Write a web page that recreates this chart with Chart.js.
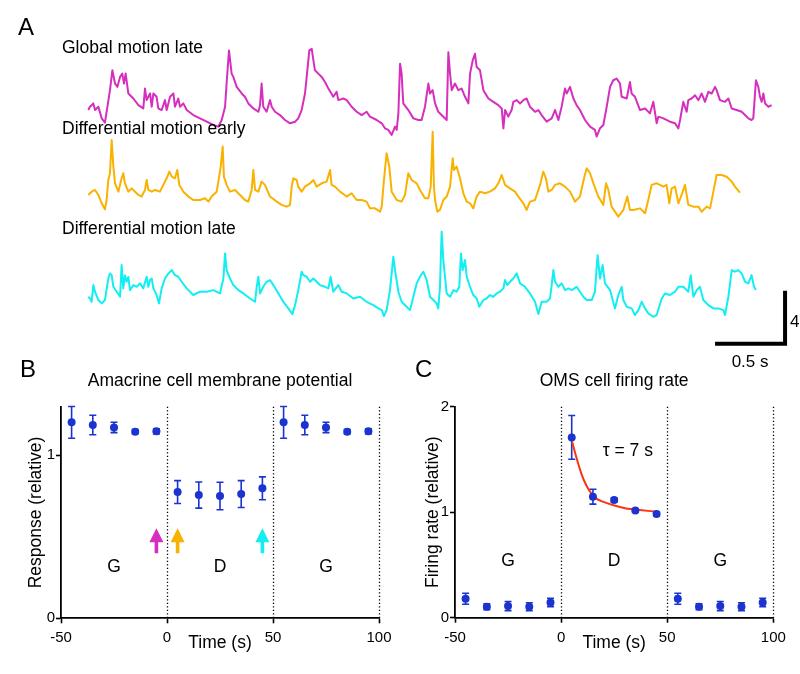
<!DOCTYPE html>
<html>
<head>
<meta charset="utf-8">
<title>Amacrine / OMS responses</title>
<script src="https://cdn.jsdelivr.net/npm/chart.js@4.4.1/dist/chart.umd.min.js"></script>
<style>
  body { margin: 0; background: #fff; width: 800px; height: 674px; position: relative; overflow: hidden; }
  canvas { position: absolute; }
</style>
</head>
<body>
<canvas id="traceChart" width="800" height="372" style="left:0px;top:0px"></canvas>
<canvas id="amacrineChart" width="400" height="319" style="left:0px;top:355px"></canvas>
<canvas id="omsChart" width="400" height="319" style="left:400px;top:355px"></canvas>
<script>
// ---- panel A: membrane potential traces (time in s, voltage in mV above trace minimum) ----
const tMagenta = [0.002,0.014,0.038,0.05,0.074,0.098,0.121,0.157,0.174,0.193,0.21,0.229,0.245,0.257,0.269,0.288,0.324,0.36,0.395,0.407,
  0.419,0.443,0.455,0.467,0.49,0.502,0.526,0.55,0.562,0.586,0.61,0.621,0.645,0.657,0.681,0.705,0.752,0.8,0.848,0.895,
  0.931,0.955,0.979,0.99,1.007,1.026,1.038,1.062,1.098,1.121,1.145,1.181,1.217,1.229,1.24,1.252,1.276,1.3,1.312,1.336,
  1.371,1.407,1.443,1.479,1.502,1.526,1.55,1.562,1.581,1.598,1.61,1.621,1.645,1.669,1.693,1.717,1.752,1.776,1.788,1.824,
  1.848,1.883,1.919,1.955,1.99,2.014,2.062,2.098,2.121,2.145,2.169,2.193,2.205,2.217,2.229,2.24,2.252,2.288,2.324,2.36,
  2.383,2.407,2.431,2.443,
  2.462,2.479,2.502,2.538,2.562,2.574,2.586,2.598,2.621,2.645,2.669,2.693,2.717,2.729,2.748,2.764,2.776,2.8,2.824,2.86,
  2.895,2.931,2.955,2.967,2.979,3.002,3.026,3.038,3.062,3.086,3.11,3.133,3.157,3.193,3.217,3.24,3.276,3.312,3.336,3.36,
  3.383,3.407,3.419,3.443,3.467,3.49,3.514,3.55,3.586,3.621,3.633,3.657,3.681,3.705,3.729,3.752,3.776,3.8,3.812,3.848,
  3.871,3.883,3.907,3.943,3.979,4.014,4.038,4.062,4.074,4.11,4.157,4.193,4.217,4.229,4.252,4.276,4.288,4.312,4.336,4.36,
  4.383,4.407,4.431,4.455,4.479,4.49,4.514,4.55,4.574,4.598,4.633,4.669,4.693,4.717,4.74,4.752,4.771,4.788,4.8,4.812,
  4.824,4.836,4.86,4.883];
const vMagenta = [2.03,2.28,2.53,2.03,2.28,1.4,1.08,3.53,5.03,4.03,3.78,4.53,4.78,4.03,4.78,3.28,2.9,2.4,2.15,3.65,
  2.78,3.28,2.28,3.28,3.03,2.15,2.03,2.78,2.03,3.03,3.28,2.28,2.9,2.28,2.53,2.03,1.65,1.4,1.15,0.9,
  0.78,1.28,2.28,4.03,6.53,4.78,4.53,3.78,3.28,3.03,2.53,2.15,1.9,2.4,4.03,2.28,1.9,2.78,2.28,1.9,
  1.65,1.28,1.03,1.15,1.4,2.03,3.28,4.53,6.53,6.65,5.78,5.03,4.78,4.53,4.15,3.65,3.03,3.4,2.78,2.9,
  2.78,2.28,1.9,1.65,1.9,1.53,1.28,1.03,0.65,0.53,0.15,0.78,0.53,1.78,5.53,4.78,2.53,2.03,1.4,1.28,
  1.28,2.28,4.03,3.28,
  3.53,2.53,1.9,1.53,1.28,6.4,4.78,3.53,4.03,3.53,3.65,3.03,2.53,4.78,5.78,6.28,5.28,5.03,3.53,2.9,
  2.65,2.4,2.15,0.65,2.03,1.53,2.03,2.65,2.78,2.53,2.78,2.9,2.28,1.9,2.03,1.65,1.15,1.4,2.03,1.28,
  2.28,3.65,3.28,3.78,2.9,2.4,2.03,1.28,0.78,0.53,0.03,0.65,0.9,2.28,3.78,4.28,4.4,4.03,3.03,2.9,
  4.15,3.28,3.03,2.03,2.15,1.78,2.65,1.03,1.53,1.4,1.15,1.03,0.65,1.28,2.65,1.9,2.78,2.9,3.15,2.78,
  3.28,2.65,3.4,3.28,3.78,3.53,2.78,2.65,2.9,2.15,2.03,1.9,1.65,1.4,1.28,1.4,4.28,3.78,3.03,2.65,
  3.28,2.53,2.28,2.4];

const tYellow = [0.002,0.026,0.05,0.074,0.098,0.121,0.133,0.145,0.157,0.169,0.181,0.193,0.217,0.24,0.252,0.264,0.288,0.312,0.336,0.36,
  0.383,0.407,0.419,0.431,0.455,0.479,0.514,0.538,0.562,0.581,0.598,0.621,0.638,0.652,0.681,0.717,0.752,0.8,0.836,0.86,
  0.883,0.919,0.931,0.948,0.962,0.971,0.99,1.014,1.05,1.086,1.121,1.145,1.169,1.181,1.193,1.217,1.24,1.264,1.3,1.348,
  1.383,1.419,1.443,1.455,1.467,1.49,1.502,1.526,1.55,1.586,1.61,1.633,1.669,1.705,1.729,1.74,1.764,1.8,1.848,1.883,
  1.919,1.955,1.99,2.014,2.05,2.086,2.098,2.114,2.133,2.152,2.169,2.205,2.24,2.264,2.288,2.312,2.348,2.371,2.407,2.431,
  2.448,2.462,
  2.471,2.479,2.495,2.514,2.538,2.562,2.586,2.605,2.614,2.633,2.657,2.681,2.705,2.729,2.752,2.776,2.8,2.836,2.871,2.907,
  2.931,2.955,2.979,3.014,3.05,3.074,3.11,3.133,3.157,3.193,3.229,3.252,3.271,3.288,3.312,3.336,3.371,3.407,3.443,3.479,
  3.514,3.543,3.562,3.586,3.61,3.645,3.681,3.7,3.717,3.74,3.764,3.788,3.824,3.852,3.871,3.895,3.943,3.979,4.002,4.026,
  4.062,4.086,4.11,4.133,4.152,4.169,4.193,4.217,4.24,4.264,4.288,4.324,4.36,4.383,4.419,4.443,4.467,4.49,4.526,4.562,
  4.598,4.621,4.657];
const vYellow = [1.76,2.01,2.14,1.76,1.13,0.68,1.38,2.89,3.4,5.91,3.9,2.64,2.01,3.02,3.4,2.64,2.01,2.26,2.01,1.76,
  1.64,2.14,2.89,2.14,2.01,2.14,2.01,2.52,3.02,3.52,3.14,3.02,3.65,2.52,2.01,1.64,1.38,1.38,1.51,1.26,
  1.64,2.01,2.77,3.9,5.41,3.14,2.52,2.01,2.14,1.76,1.38,1.26,2.14,3.65,2.14,2.01,2.77,2.52,1.64,1.26,
  1.01,0.88,1.01,2.39,3.02,2.89,2.39,2.01,2.39,2.64,2.89,2.39,2.64,2.77,3.65,2.52,2.39,2.01,1.64,1.89,
  1.38,1.38,1.26,0.75,0.75,0.5,0.88,2.89,4.91,3.9,2.01,1.38,1.26,1.76,3.4,2.89,2.64,2.14,1.51,1.51,
  2.39,6.54,
  2.39,1.38,0.5,0.63,1.38,1.64,2.39,4.53,3.65,3.9,3.02,1.89,1.26,1.13,0.75,1.64,2.01,1.89,2.01,2.26,
  2.64,3.27,2.52,2.26,2.01,1.64,1.13,0.63,1.26,1.38,2.52,3.52,3.02,2.01,2.14,2.52,2.64,2.39,2.01,1.26,
  1.64,3.02,3.77,3.4,2.64,1.64,1.01,2.64,2.14,0.88,0.5,0.13,0.63,1.64,0.63,0.63,0.75,0.38,1.38,2.52,
  2.64,2.52,2.39,2.52,1.13,2.26,2.39,1.13,1.76,2.52,1.01,0.88,0.88,0.5,0.88,0.75,2.01,3.27,3.27,3.14,
  2.77,2.39,1.94];

const tCyan = [0.002,0.014,0.026,0.038,0.05,0.074,0.098,0.121,0.145,0.157,0.169,0.181,0.205,0.229,0.24,0.252,0.264,0.276,0.288,0.3,
  0.324,0.348,0.371,0.395,0.419,0.431,0.443,0.455,0.467,0.49,0.507,0.526,0.55,0.574,0.598,0.621,0.645,0.669,0.705,0.752,
  0.8,0.848,0.895,0.943,0.967,0.979,0.99,1.014,1.038,1.074,1.11,1.157,1.193,1.205,1.217,1.229,1.252,1.276,1.3,1.324,
  1.36,1.395,1.431,1.46,1.479,1.502,1.526,1.538,1.562,1.586,1.61,1.633,1.657,1.693,1.717,1.733,1.752,1.788,1.812,1.848,
  1.895,1.943,1.99,2.038,2.074,2.098,2.114,2.133,2.157,2.181,2.193,2.217,2.24,2.276,2.3,2.324,2.348,2.371,2.395,2.419,
  2.443,2.467,2.49,
  2.502,2.514,2.526,2.538,2.55,2.562,2.586,2.61,2.633,2.652,2.664,2.676,2.693,2.705,2.729,2.752,2.776,2.795,2.824,2.848,
  2.871,2.895,2.919,2.943,2.967,2.979,2.995,3.014,3.038,3.062,3.086,3.121,3.157,3.193,3.217,3.24,3.276,3.3,3.312,3.324,
  3.336,3.36,3.383,3.407,3.431,3.455,3.49,3.514,3.538,3.562,3.598,3.621,3.64,3.657,3.676,3.693,3.729,3.764,3.788,3.812,
  3.824,3.848,3.883,3.907,3.931,3.955,3.979,4.002,4.038,4.062,4.098,4.121,4.157,4.193,4.217,4.252,4.288,4.305,4.324,4.348,
  4.371,4.395,4.431,4.467,4.502,4.538,4.55,4.574,4.598,4.621,4.645,4.669,4.693,4.717,4.74,4.757,4.771];
const vCyan = [1.51,1.38,1.13,2.39,1.89,1.26,1.01,1.26,2.89,3.27,3.14,2.26,1.89,1.51,3.9,2.14,3.14,2.64,3.02,2.01,
  2.39,2.26,2.52,2.14,3.02,2.26,2.77,2.89,2.14,1.64,1.01,2.14,2.89,3.27,3.52,3.14,3.02,2.64,2.14,1.64,
  1.89,1.89,2.01,1.76,2.89,4.78,3.52,2.89,2.39,2.01,1.76,1.38,1.13,2.26,3.02,1.76,2.26,2.64,2.77,2.39,
  1.76,1.13,0.63,0.2,0.88,2.01,3.4,3.14,3.02,2.64,2.89,2.64,2.39,2.26,2.14,3.02,1.89,2.39,1.89,1.76,
  1.38,1.51,1.13,0.88,0.63,0.5,0.05,0.5,2.01,4.53,3.52,1.89,1.13,0.75,0.5,1.51,2.52,3.02,3.4,2.77,
  1.51,1.26,1.01,
  0.63,2.26,6.42,4.28,3.02,1.76,1.51,2.01,1.89,2.26,4.78,3.52,4.28,3.02,2.26,1.64,1.38,0.75,1.26,1.38,
  1.64,1.51,1.76,1.89,2.14,2.77,2.39,2.64,2.89,3.27,2.52,2.26,1.76,1.13,0.2,1.13,1.13,1.38,2.39,3.52,
  2.64,2.26,2.52,2.01,2.14,2.01,2.26,1.89,1.51,1.26,1.26,1.89,4.65,2.89,3.9,2.52,2.01,0.63,1.64,2.26,
  1.26,0.75,0.63,0.13,0.5,1.13,0.63,0.25,0.0,0.13,1.38,1.76,1.64,1.89,2.26,2.26,1.89,3.14,1.51,2.01,
  2.26,1.26,0.88,0.63,0.63,0.5,0.13,1.51,3.52,3.4,3.52,3.27,2.64,2.52,3.14,2.26,2.01];

const traceNames = ['Global motion late', 'Differential motion early', 'Differential motion late'];
const scaleBarTime = 0.5;   // s
const scaleBarVolt = 4;     // mV

// ---- panels B and C: binned responses ----
const binTimes = [-45, -35, -25, -15, -5, 5, 15, 25, 35, 45, 55, 65, 75, 85, 95];
const amacrineMean = [1.2, 1.184, 1.169, 1.143, 1.145, 0.773, 0.755, 0.749, 0.761, 0.796, 1.2, 1.184, 1.169, 1.143, 1.145];
const amacrineErr = [0.097, 0.06, 0.032, 0.013, 0.016, 0.07, 0.08, 0.084, 0.082, 0.07, 0.097, 0.06, 0.032, 0.013, 0.016];
const omsMean = [0.18, 0.104, 0.11, 0.104, 0.145, 1.709, 1.147, 1.115, 1.017, 0.983, 0.18, 0.104, 0.11, 0.104, 0.145];
const omsErr = [0.052, 0.028, 0.043, 0.038, 0.04, 0.207, 0.07, 0.02, 0.013, 0.016, 0.052, 0.028, 0.043, 0.038, 0.04];
const fitTimes = [5.2, 7.1, 9.5, 11.8, 14.2, 16.5, 19.6, 24.3, 30.6, 36.9, 44.8];
const fitValues = [1.668, 1.526, 1.368, 1.258, 1.179, 1.131, 1.1, 1.068, 1.036, 1.021, 1.005];

const phaseNames = ['G', 'D', 'G'];
const phaseTimes = [-25, 25, 75];
const dividerTimes = [0, 50, 100];
const xTicks = [-50, 0, 50, 100];
const arrowTimes = [-5, 5, 45];

const MAGENTA = '#d62fbe';
const YELLOW = '#f9b200';
const CYAN = '#12eef2';
const BLUE = '#1c34cf';
const FIT_RED = '#fb3414';
const arrowColors = [MAGENTA, YELLOW, CYAN];

const FAMILY = '"Liberation Sans", Arial, Helvetica, sans-serif';
const font = size => size + 'px ' + FAMILY;

Chart.defaults.font.family = FAMILY;
Chart.defaults.color = '#000';

function toPoints(xs, ys, offset) {
  const n = Math.min(xs.length, ys.length);
  const pts = [];
  for (let i = 0; i < n; i++) pts.push({ x: xs[i], y: ys[i] + (offset || 0) });
  return pts;
}

// ---------------- panel A ----------------
// vertical placement of each trace baseline, in mV on the shared axis
const traceBases = [17.74, 11.6, 4.17];
const scaleCorner = { t: 4.979, v: 2.136 };

const traceText = {
  id: 'traceText',
  afterDraw(chart) {
    const { ctx, scales: { x, y } } = chart;
    ctx.save();
    ctx.fillStyle = '#000';
    ctx.textAlign = 'left';
    ctx.textBaseline = 'alphabetic';
    ctx.font = font(24);
    ctx.fillText('A', 18, 35);
    ctx.font = font(17.5);
    const nameBaselines = [53, 134, 234];
    traceNames.forEach((n, i) => ctx.fillText(n, 62, nameBaselines[i]));

    const cx = x.getPixelForValue(scaleCorner.t);
    const cy = y.getPixelForValue(scaleCorner.v);
    const vTop = y.getPixelForValue(scaleCorner.v + scaleBarVolt);
    const hLeft = x.getPixelForValue(scaleCorner.t - scaleBarTime);
    ctx.font = font(17);
    ctx.textBaseline = 'middle';
    ctx.fillText(String(scaleBarVolt), cx + 5, (cy + vTop) / 2 + 5);
    ctx.textAlign = 'center';
    ctx.textBaseline = 'alphabetic';
    ctx.fillText(scaleBarTime + ' s', (cx + hLeft) / 2, cy + 23);
    ctx.restore();
  }
};

function traceSet(ts, vs, base, color) {
  return {
    data: toPoints(ts, vs, base),
    borderColor: color,
    borderWidth: 2,
    pointRadius: 0,
    tension: 0,
    borderJoinStyle: 'round'
  };
}

new Chart(document.getElementById('traceChart'), {
  type: 'line',
  data: {
    datasets: [
      traceSet(tMagenta, vMagenta, traceBases[0], MAGENTA),
      traceSet(tYellow, vYellow, traceBases[1], YELLOW),
      traceSet(tCyan, vCyan, traceBases[2], CYAN),
      {
        data: [
          { x: scaleCorner.t - scaleBarTime, y: scaleCorner.v },
          { x: scaleCorner.t, y: scaleCorner.v },
          { x: scaleCorner.t, y: scaleCorner.v + scaleBarVolt }
        ],
        borderColor: '#000',
        borderWidth: 4,
        pointRadius: 0,
        borderJoinStyle: 'miter',
        borderCapStyle: 'butt'
      }
    ]
  },
  options: {
    responsive: false,
    animation: false,
    layout: { padding: 0 },
    plugins: { legend: { display: false }, tooltip: { enabled: false } },
    scales: {
      x: { type: 'linear', display: false, min: -0.6286, max: 5.0857 },
      y: { type: 'linear', display: false, min: 0, max: 28.075 }
    }
  },
  plugins: [traceText]
});

// ---------------- panels B and C ----------------
const errorBars = {
  id: 'errorBars',
  beforeDatasetsDraw(chart, args, o) {
    const { ctx, scales: { x, y } } = chart;
    ctx.save();
    ctx.strokeStyle = o.color;
    ctx.lineWidth = 1.6;
    binTimes.forEach((t, i) => {
      const px = x.getPixelForValue(t);
      const top = y.getPixelForValue(o.means[i] + o.errors[i]);
      const bot = y.getPixelForValue(o.means[i] - o.errors[i]);
      ctx.beginPath();
      ctx.moveTo(px, top); ctx.lineTo(px, bot);
      ctx.moveTo(px - 3.5, top); ctx.lineTo(px + 3.5, top);
      ctx.moveTo(px - 3.5, bot); ctx.lineTo(px + 3.5, bot);
      ctx.stroke();
    });
    ctx.restore();
  }
};

const panelDecor = {
  id: 'panelDecor',
  beforeDatasetsDraw(chart) {
    const { ctx, chartArea, scales: { x } } = chart;
    ctx.save();
    ctx.strokeStyle = '#000';
    ctx.lineWidth = 1.3;
    ctx.setLineDash([1.3, 2.2]);
    dividerTimes.forEach(t => {
      const px = Math.round(x.getPixelForValue(t)) + 0.5;
      ctx.beginPath();
      ctx.moveTo(px, chartArea.top);
      ctx.lineTo(px, chartArea.bottom);
      ctx.stroke();
    });
    ctx.restore();
  },
  afterDraw(chart, args, o) {
    const { ctx, chartArea, scales: { x, y } } = chart;
    ctx.save();
    ctx.fillStyle = '#000';
    ctx.textBaseline = 'alphabetic';
    ctx.textAlign = 'center';
    ctx.font = font(17.5);
    phaseTimes.forEach((t, i) => ctx.fillText(phaseNames[i], x.getPixelForValue(t), y.getPixelForValue(o.phaseLevel)));
    ctx.fillText(o.title, (chartArea.left + chartArea.right) / 2, 30.5);
    if (o.note) {
      ctx.textAlign = 'left';
      ctx.fillText(o.note.text, x.getPixelForValue(o.note.t), y.getPixelForValue(o.note.v));
    }
    ctx.textAlign = 'left';
    ctx.font = font(24);
    ctx.fillText(o.letter, o.letterX, 22);

    if (o.arrows) {
      arrowTimes.forEach((t, i) => {
        const px = x.getPixelForValue(t);
        const tip = y.getPixelForValue(o.arrows.tip);
        const base = y.getPixelForValue(o.arrows.base);
        ctx.fillStyle = arrowColors[i];
        ctx.beginPath();
        ctx.moveTo(px, tip);
        ctx.lineTo(px + 7, tip + 14);
        ctx.lineTo(px + 1.8, tip + 14);
        ctx.lineTo(px + 1.8, base);
        ctx.lineTo(px - 1.8, base);
        ctx.lineTo(px - 1.8, tip + 14);
        ctx.lineTo(px - 7, tip + 14);
        ctx.closePath();
        ctx.fill();
      });
    }
    ctx.restore();
  }
};

function axisScales(yMax, yTitle, yTitlePad, yWidth, xHeight) {
  const grid = { display: true, drawOnChartArea: false, drawTicks: true, tickLength: 5, tickWidth: 1.6, tickColor: '#000' };
  const border = { display: true, color: '#000', width: 1.8 };
  return {
    x: {
      type: 'linear', min: -50, max: 100,
      afterFit: s => { s.height = xHeight; },
      afterBuildTicks: s => { s.ticks = xTicks.map(v => ({ value: v })); },
      ticks: { font: { size: 15 }, padding: 6, maxRotation: 0, autoSkip: false },
      grid, border,
      title: { display: true, text: 'Time (s)', font: { size: 17.5 }, padding: { top: 0, bottom: 20 } }
    },
    y: {
      type: 'linear', min: 0, max: yMax,
      afterFit: s => { s.width = yWidth; },
      ticks: { font: { size: 15 }, stepSize: 1, includeBounds: false, padding: 1 },
      grid, border,
      title: { display: true, text: yTitle, font: { size: 17.5 }, padding: { top: yTitlePad, bottom: 0 } }
    }
  };
}

new Chart(document.getElementById('amacrineChart'), {
  type: 'scatter',
  data: {
    datasets: [{
      data: toPoints(binTimes, amacrineMean),
      pointRadius: 4, pointBackgroundColor: BLUE, pointBorderWidth: 0
    }]
  },
  options: {
    responsive: false,
    animation: false,
    layout: { padding: { left: 0, top: 51.7, right: 21, bottom: 0 } },
    plugins: {
      legend: { display: false }, tooltip: { enabled: false },
      errorBars: { means: amacrineMean, errors: amacrineErr, color: BLUE },
      panelDecor: {
        title: 'Amacrine cell membrane potential', letter: 'B', letterX: 20,
        phaseLevel: 0.285, arrows: { tip: 0.551, base: 0.398 }
      }
    },
    scales: axisScales(1.296, 'Response (relative)', 25.5, 61, 55.7)
  },
  plugins: [errorBars, panelDecor]
});

new Chart(document.getElementById('omsChart'), {
  type: 'scatter',
  data: {
    datasets: [
      {
        data: toPoints(binTimes, omsMean),
        pointRadius: 4, pointBackgroundColor: BLUE, pointBorderWidth: 0, order: 1
      },
      {
        type: 'line',
        data: toPoints(fitTimes, fitValues),
        borderColor: FIT_RED, borderWidth: 2, pointRadius: 0,
        cubicInterpolationMode: 'monotone', order: 2
      }
    ]
  },
  options: {
    responsive: false,
    animation: false,
    layout: { padding: { left: 0, top: 51.7, right: 26.7, bottom: 0 } },
    plugins: {
      legend: { display: false }, tooltip: { enabled: false },
      errorBars: { means: omsMean, errors: omsErr, color: BLUE },
      panelDecor: {
        title: 'OMS cell firing rate', letter: 'C', letterX: 15,
        phaseLevel: 0.493, note: { text: '\u03c4 = 7 s', t: 19.6, v: 1.533 }
      }
    },
    scales: axisScales(2, 'Firing rate (relative)', 22.5, 55, 56.3)
  },
  plugins: [errorBars, panelDecor]
});
</script>
</body>
</html>
